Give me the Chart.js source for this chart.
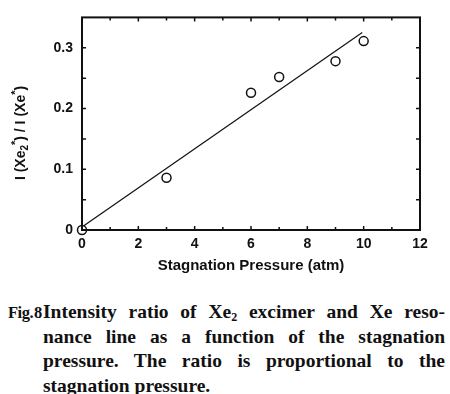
<!DOCTYPE html>
<html>
<head>
<meta charset="utf-8">
<script src="https://cdn.jsdelivr.net/npm/chart.js@4"></script>
<style>
  body { margin: 0; background: #fff; width: 450px; height: 394px; overflow: hidden; }
  #wrap { position: relative; width: 450px; height: 290px; }
  .cap { position: absolute; left: 0; top: 300px; width: 450px; font-family: "Liberation Serif", serif; font-weight: bold; font-size: 19.5px; line-height: 24.6px; color: #111; }
  .lab { position: absolute; top: 1px; font-size: 16.5px; letter-spacing: -0.5px; }
  .txt { position: absolute; left: 43px; width: 402px; }
  .ln { text-align: justify; text-align-last: justify; white-space: nowrap; }
  .ln.last { text-align-last: left; }
  sub { font-size: 12px; line-height: 0; vertical-align: -3px; }
</style>
</head>
<body>
<div id="wrap"><canvas id="chart" width="450" height="290"></canvas></div>
<div class="cap">
  <span class="lab" style="left:8px">Fig.</span><span class="lab" style="left:34px">8</span>
  <div class="txt">
    <div class="ln">Intensity ratio of Xe<sub>2</sub> excimer and Xe reso-</div>
    <div class="ln">nance line as a function of the stagnation</div>
    <div class="ln">pressure. The ratio is proportional to the</div>
    <div class="ln last">stagnation pressure.</div>
  </div>
</div>
<script>
// data
const pressure = [0, 3, 6, 7, 9, 10];
const ratio = [0, 0.086, 0.226, 0.252, 0.278, 0.311];
const fitX = [0, 9.95];
const fitY = [0.005, 0.325];
const xTicks = [0, 2, 4, 6, 8, 10, 12];
const yTicks = [0, 0.1, 0.2, 0.3];

const tickFont = { family: '"Liberation Sans", Arial, sans-serif', size: 14, weight: 'bold' };

// frame, inward ticks and the y title with sub/superscripts
const framePlugin = {
  id: 'frame',
  afterDraw(chart) {
    const ctx = chart.ctx;
    const a = chart.chartArea;
    const xs = chart.scales.x, ys = chart.scales.y;
    ctx.save();
    ctx.strokeStyle = '#111';
    ctx.lineWidth = 2;
    ctx.strokeRect(a.left, a.top, a.right - a.left, a.bottom - a.top);
    ctx.lineWidth = 1.5;
    ctx.beginPath();
    for (let v = 1; v < 12; v++) {
      const px = xs.getPixelForValue(v);
      const len = v % 2 === 0 ? 4 : 3;
      ctx.moveTo(px, a.bottom); ctx.lineTo(px, a.bottom - len);
      ctx.moveTo(px, a.top); ctx.lineTo(px, a.top + len);
    }
    for (let i = 1; i < 7; i++) {
      const py = ys.getPixelForValue(i * 0.05);
      ctx.moveTo(a.left, py); ctx.lineTo(a.left + 4, py);
      ctx.moveTo(a.right, py); ctx.lineTo(a.right - 4, py);
    }
    ctx.stroke();

    // y axis title: I (Xe2*) / I (Xe*)
    const parts = [
      ['I (Xe', 0, 14], ['2', 4, 10], ['*', -5, 11], [') / I (Xe', 0, 14], ['*', -5, 11], [')', 0, 14]
    ];
    ctx.translate(20, 133);
    ctx.rotate(-Math.PI / 2);
    ctx.fillStyle = '#111';
    ctx.textBaseline = 'middle';
    let total = 0;
    parts.forEach(p => {
      ctx.font = 'bold ' + p[2] + 'px "Liberation Sans", Arial, sans-serif';
      total += ctx.measureText(p[0]).width;
    });
    let x = -total / 2;
    parts.forEach(p => {
      ctx.font = 'bold ' + p[2] + 'px "Liberation Sans", Arial, sans-serif';
      ctx.fillText(p[0], x, p[1] + 1);
      x += ctx.measureText(p[0]).width;
    });
    ctx.restore();
  }
};

new Chart(document.getElementById('chart'), {
  type: 'scatter',
  data: {
    datasets: [
      {
        label: 'fit',
        type: 'line',
        data: fitX.map((x, i) => ({ x: x, y: fitY[i] })),
        borderColor: '#111',
        borderWidth: 1.2,
        pointRadius: 0,
        fill: false,
        order: 2
      },
      {
        label: 'ratio',
        data: pressure.map((x, i) => ({ x: x, y: ratio[i] })),
        pointStyle: 'circle',
        pointRadius: 4.5,
        borderColor: '#111',
        borderWidth: 1.5,
        backgroundColor: '#fff',
        clip: false,
        order: 1
      }
    ]
  },
  options: {
    responsive: false,
    animation: false,
    layout: { padding: { top: 13, right: 30, left: 0, bottom: 0 } },
    plugins: { legend: { display: false }, tooltip: { enabled: false } },
    scales: {
      x: {
        type: 'linear', min: 0, max: 12,
        afterBuildTicks: s => { s.ticks = xTicks.map(v => ({ value: v })); },
        afterFit: s => { s.height = 60; },
        grid: { display: false, drawTicks: false },
        border: { display: false },
        ticks: { font: tickFont, color: '#111', padding: 6, maxRotation: 0 },
        title: { display: true, text: 'Stagnation Pressure (atm)', font: { family: '"Liberation Sans", Arial, sans-serif', size: 15, weight: 'bold' }, color: '#111', padding: { top: 6, bottom: 15 } }
      },
      y: {
        type: 'linear', min: 0, max: 0.35,
        afterBuildTicks: s => { s.ticks = yTicks.map(v => ({ value: v })); },
        afterFit: s => { s.width = 82; },
        grid: { display: false, drawTicks: false },
        border: { display: false },
        ticks: { font: tickFont, color: '#111', padding: 9, callback: v => v === 0 ? '0' : v.toFixed(1) }
      }
    }
  },
  plugins: [framePlugin]
});
</script>
</body>
</html>
